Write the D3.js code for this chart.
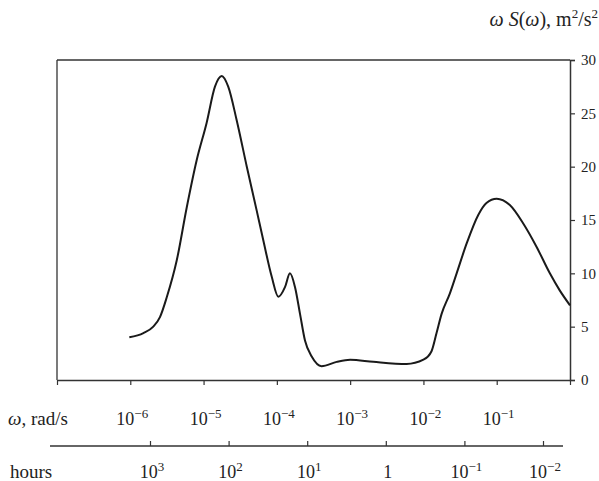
<!DOCTYPE html>
<html>
<head>
<meta charset="utf-8">
<script src="https://cdn.jsdelivr.net/npm/d3@7"></script>
<style>
  body { margin: 0; background: #fff; }
  svg text { font-family: "Liberation Serif", "DejaVu Serif", serif; fill: #222; }
</style>
</head>
<body>
<div id="chart"></div>
<script>
// omega (rad/s) and omega*S(omega) (m^2/s^2)
const omega = [
  9.7e-7, 1.51e-6, 2.06e-6, 2.54e-6, 3.16e-6, 4.3e-6, 5.9e-6, 8.05e-6,
  1.10e-5, 1.43e-5, 1.77e-5, 2.17e-5, 2.82e-5, 3.89e-5, 5.3e-5, 6.53e-5,
  8.5e-5, 1.05e-4, 1.29e-4, 1.51e-4, 1.77e-4, 2.07e-4, 2.42e-4, 2.99e-4,
  4.07e-4, 6.55e-4, 1.0e-3, 2.07e-3, 5.9e-3, 1.0e-2, 1.29e-2, 1.51e-2,
  1.77e-2, 2.29e-2, 2.84e-2, 3.89e-2, 5.62e-2, 7.24e-2, 0.1, 0.151,
  0.229, 0.349, 0.531, 0.724, 1.0
];
const spectrum = [
  4.0, 4.4, 5.0, 5.9, 7.8, 11.2, 16.2, 20.6,
  24.1, 27.5, 28.5, 27.5, 24.4, 20.0, 15.9, 13.1,
  9.7, 7.8, 8.7, 10.0, 8.7, 6.2, 3.7, 2.2,
  1.3, 1.7, 1.9, 1.7, 1.5, 1.9, 2.7, 4.4,
  6.2, 8.1, 10.0, 12.8, 15.5, 16.6, 17.0, 16.4,
  14.7, 12.5, 10.0, 8.4, 7.0
];
const yTicks = [0, 5, 10, 15, 20, 25, 30];
const omegaTicks = [1e-7, 1e-6, 1e-5, 1e-4, 1e-3, 1e-2, 1e-1, 1];
const omegaLabels = ['−6', '−5', '−4', '−3', '−2', '−1'];
const hourTicks = [1e3, 1e2, 1e1, 1, 1e-1, 1e-2];
const hourLabels = ['3', '2', '1', '', '−1', '−2'];

const W = 599, H = 481;
const margin = { left: 57, right: 29, top: 60, bottom: 101 };
const width = W - margin.left - margin.right;
const height = H - margin.top - margin.bottom;

const svg = d3.select('#chart').append('svg')
  .attr('width', W).attr('height', H);

const x = d3.scaleLog().domain([1e-7, 1]).range([margin.left, margin.left + width]);
const y = d3.scaleLinear().domain([0, 30]).range([margin.top + height, margin.top]);
// hours scale drawn separately, as in the original figure
const xh = d3.scaleLog().domain([1e3, 1e-2]).range([150, 543]);

const axisColor = '#333';

// frame: top and left lines
svg.append('line')
  .attr('x1', x(1e-7)).attr('x2', x(1))
  .attr('y1', y(30)).attr('y2', y(30))
  .attr('stroke', axisColor).attr('stroke-width', 1.3);
svg.append('line')
  .attr('x1', x(1e-7)).attr('x2', x(1e-7))
  .attr('y1', y(30)).attr('y2', y(0))
  .attr('stroke', axisColor).attr('stroke-width', 1.3);

// right y axis
const yAxis = svg.append('g')
  .attr('transform', `translate(${x(1)},0)`)
  .call(d3.axisRight(y).tickValues(yTicks).tickSize(5).tickPadding(6));
yAxis.select('.domain').attr('stroke', axisColor).attr('stroke-width', 1.5);
yAxis.selectAll('.tick line').attr('stroke', axisColor).attr('stroke-width', 1.2);
yAxis.selectAll('.tick text')
  .attr('fill', '#222')
  .style('font-family', '"Liberation Serif", serif')
  .style('font-size', '15px');

// bottom omega axis
const xAxis = svg.append('g')
  .attr('transform', `translate(0,${y(0)})`)
  .call(d3.axisBottom(x).tickValues(omegaTicks).tickSize(5).tickSizeOuter(0).tickFormat(''));
xAxis.select('.domain').attr('stroke', axisColor).attr('stroke-width', 1.5);
xAxis.selectAll('.tick line').attr('stroke', axisColor).attr('stroke-width', 1.2);

function powerLabel(sel, exp) {
  sel.append('tspan').text('10');
  sel.append('tspan').attr('dy', -7).style('font-size', '13px').text(exp);
}

svg.append('g').selectAll('text')
  .data(omegaLabels)
  .join('text')
  .attr('x', (d, i) => x(omegaTicks[i + 1]) + 2)
  .attr('y', 425)
  .attr('text-anchor', 'middle')
  .style('font-size', '18px')
  .each(function (d) { powerLabel(d3.select(this), d); });

svg.append('text')
  .attr('x', 8).attr('y', 425)
  .style('font-size', '19px')
  .call(t => {
    t.append('tspan').style('font-style', 'italic').text('ω');
    t.append('tspan').text(', rad/s');
  });

// hours axis
const hAxis = svg.append('g')
  .attr('transform', 'translate(0,446)')
  .call(d3.axisTop(xh).tickValues(hourTicks).tickSize(5).tickSizeOuter(0).tickFormat(''));
hAxis.select('.domain').attr('d', 'M50,0H563').attr('stroke', axisColor).attr('stroke-width', 1.3);
hAxis.selectAll('.tick line').attr('stroke', axisColor).attr('stroke-width', 1.2);

svg.append('g').selectAll('text')
  .data(hourTicks)
  .join('text')
  .attr('x', d => xh(d) + 2)
  .attr('y', 478)
  .attr('text-anchor', 'middle')
  .style('font-size', '18px')
  .each(function (d, i) {
    if (d === 1) { d3.select(this).text('1'); return; }
    powerLabel(d3.select(this), hourLabels[i]);
  });

svg.append('text')
  .attr('x', 10).attr('y', 478)
  .style('font-size', '19px')
  .text('hours');

// title
svg.append('text')
  .attr('x', 598).attr('y', 26)
  .attr('text-anchor', 'end')
  .style('font-size', '20px')
  .call(t => {
    t.append('tspan').style('font-style', 'italic').text('ω S');
    t.append('tspan').text('(');
    t.append('tspan').style('font-style', 'italic').text('ω');
    t.append('tspan').text('), m');
    t.append('tspan').attr('dy', -8).style('font-size', '13px').text('2');
    t.append('tspan').attr('dy', 8).text('/s');
    t.append('tspan').attr('dy', -8).style('font-size', '13px').text('2');
  });

// spectrum curve
const pts = omega.map((w, i) => [w, spectrum[i]]);
svg.append('path')
  .datum(pts)
  .attr('fill', 'none')
  .attr('stroke', '#1a1a1a')
  .attr('stroke-width', 2)
  .attr('d', d3.line().x(d => x(d[0])).y(d => y(d[1])).curve(d3.curveMonotoneX));
</script>
</body>
</html>
